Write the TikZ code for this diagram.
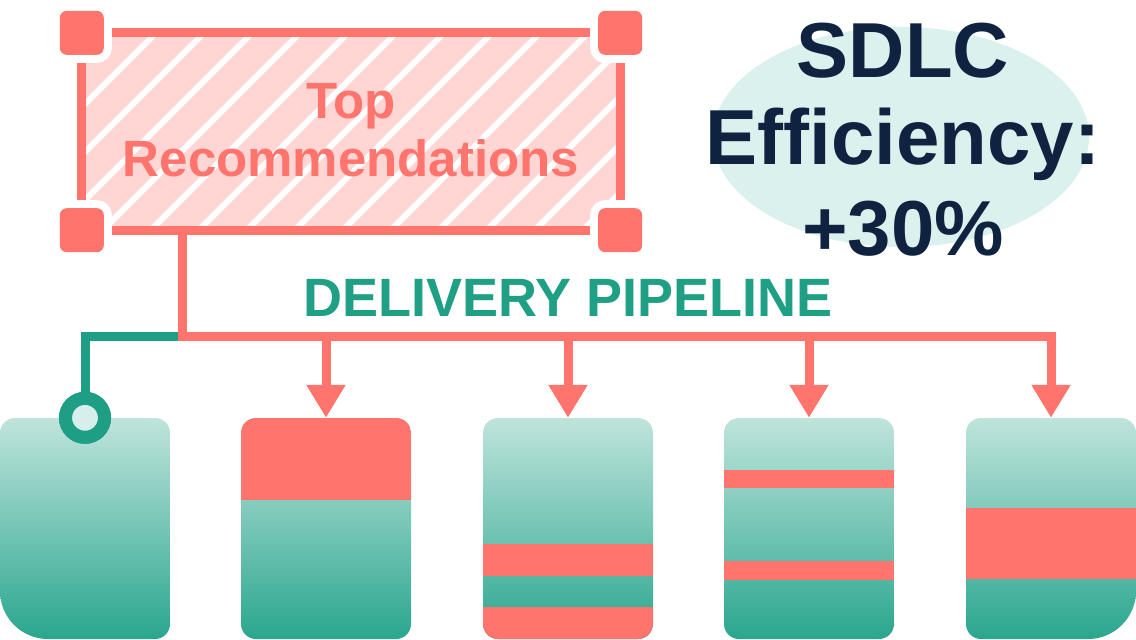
\documentclass[tikz,border=0pt]{standalone}
\usepackage{fontspec}
\setmainfont{Liberation Sans}
\usetikzlibrary{arrows.meta,shapes.geometric}
\definecolor{coral}{HTML}{FF746C}
\definecolor{pinkfill}{HTML}{FFD6D4}
\definecolor{tealline}{HTML}{1E9E85}
\definecolor{tealtext}{HTML}{1FA084}
\definecolor{mintA}{HTML}{BFE4DC}
\definecolor{mintB}{HTML}{2AA68E}
\definecolor{ellfill}{HTML}{DBF1EE}
\definecolor{navy}{HTML}{0F2341}
\definecolor{circfill}{HTML}{D6EFEC}
% box outline: x0, x1, r top-left, r top-right, r bottom-right, r bottom-left
\newcommand\boxpath[6]{(#1,418+#3) arc[start angle=180,end angle=270,radius=#3] -- (#2-#4,418) arc[start angle=270,end angle=360,radius=#4] -- (#2,639-#5) arc[start angle=0,end angle=90,radius=#5] -- (#1+#6,639) arc[start angle=90,end angle=180,radius=#6] -- cycle}
\begin{document}
\begin{tikzpicture}[x=1pt,y=-1pt,
  cline/.style={draw=coral,line width=9pt,line join=miter},
  tline/.style={draw=tealline,line width=9pt,line join=miter},
  arr/.style={cline,-{Triangle[width=37pt,length=33pt]}},
  handle/.style={rectangle,minimum size=44pt,inner sep=0pt,fill=coral,rounded corners=7pt,
    preaction={draw=white,line width=16pt}},
  boxnode/.style={rectangle,minimum width=170pt,minimum height=221pt,inner sep=0pt},
  bandfill/.style={fill=coral},
  gradfill/.style={top color=mintA,bottom color=mintB},
  bigtext/.style={font=\fontsize{78}{90}\selectfont\bfseries,text=navy,anchor=base,inner sep=0pt},
  rectext/.style={font=\fontsize{51}{57}\selectfont\bfseries,text=coral,anchor=base,inner sep=0pt}]
\useasboundingbox (0,0) rectangle (1136,640);
\fill[white] (0,0) rectangle (1136,640);

% efficiency ellipse
\node[ellipse,fill=ellfill,minimum width=376pt,minimum height=220pt,inner sep=0pt] (ell) at (901,137) {};

% recommendations box
\node[rectangle,minimum width=538pt,minimum height=197pt,inner sep=0pt] (rec) at (351,131.5) {};
\fill[pinkfill] (rec.north west) rectangle (rec.south east);
\begin{scope}
  \clip (rec.north west) rectangle (rec.south east);
  \foreach \k in {-3,...,15}{
    \pgfmathsetmacro\c{189+48*\k}
    \draw[white,line width=6pt] (\c-260,260) -- (\c,0);
  }
\end{scope}
\draw[cline] (rec.north west) rectangle (rec.south east);
\node[handle] (h1) at (rec.north west) {};
\node[handle] (h2) at (rec.north east) {};
\node[handle] (h3) at (rec.south west) {};
\node[handle] (h4) at (rec.south east) {};

% pipeline boxes (named)
\node[boxnode] (b1) at (85,528.5) {};
\node[boxnode] (b2) at (326,528.5) {};
\node[boxnode] (b3) at (568,528.5) {};
\node[boxnode] (b4) at (809,528.5) {};
\node[boxnode] (b5) at (1051,528.5) {};

\begin{scope}
  \clip \boxpath{0}{170}{15}{15}{15}{48};
  \shade[gradfill] (0,418) rectangle (170,639);
\end{scope}
\begin{scope}
  \clip \boxpath{241}{411}{15}{15}{15}{15};
  \shade[gradfill] (241,418) rectangle (411,639);
  \fill[bandfill] (241,418) rectangle (411,500);
\end{scope}
\begin{scope}
  \clip \boxpath{483}{653}{15}{15}{15}{15};
  \shade[gradfill] (483,418) rectangle (653,639);
  \fill[bandfill] (483,544) rectangle (653,576);
  \fill[bandfill] (483,607) rectangle (653,640);
\end{scope}
\begin{scope}
  \clip \boxpath{724}{894}{15}{15}{15}{15};
  \shade[gradfill] (724,418) rectangle (894,639);
  \fill[bandfill] (724,470) rectangle (894,488);
  \fill[bandfill] (724,561) rectangle (894,580);
\end{scope}
\begin{scope}
  \clip \boxpath{966}{1136}{15}{15}{48}{15};
  \shade[gradfill] (966,418) rectangle (1136,639);
  \fill[bandfill] (966,508) rectangle (1136,579);
\end{scope}

% connectors
\coordinate (j) at (182,336);
\node[circle,minimum size=39pt,inner sep=0pt,draw=tealline,line width=13pt,fill=circfill] (c1) at (b1.north) {};
\draw[tline] (j) -| (c1.north);
\draw[arr] (rec.south -| j) -- (j) -- (b5.north |- j) -- (b5.north);
\draw[arr] (b2.north |- j) -- (b2.north);
\draw[arr] (b3.north |- j) -- (b3.north);
\draw[arr] (b4.north |- j) -- (b4.north);
\node[circle,minimum size=39pt,inner sep=0pt,draw=tealline,line width=13pt,fill=circfill] at (c1) {};

% texts
\node[rectext] (t1) at (351,118) {Top};
\node[rectext] (t2) at (351,176) {Recommendations};
\node[font=\fontsize{54}{60}\selectfont\bfseries,text=tealtext,anchor=base,inner sep=0pt] (dp) at (568,316) {DELIVERY PIPELINE};
\node[bigtext] (s1) at (903,77) {SDLC};
\node[bigtext] (s2) at (903,164) {Efficiency:};
\node[bigtext] (s3) at (903,255) {+30\%};
\end{tikzpicture}
\end{document}
